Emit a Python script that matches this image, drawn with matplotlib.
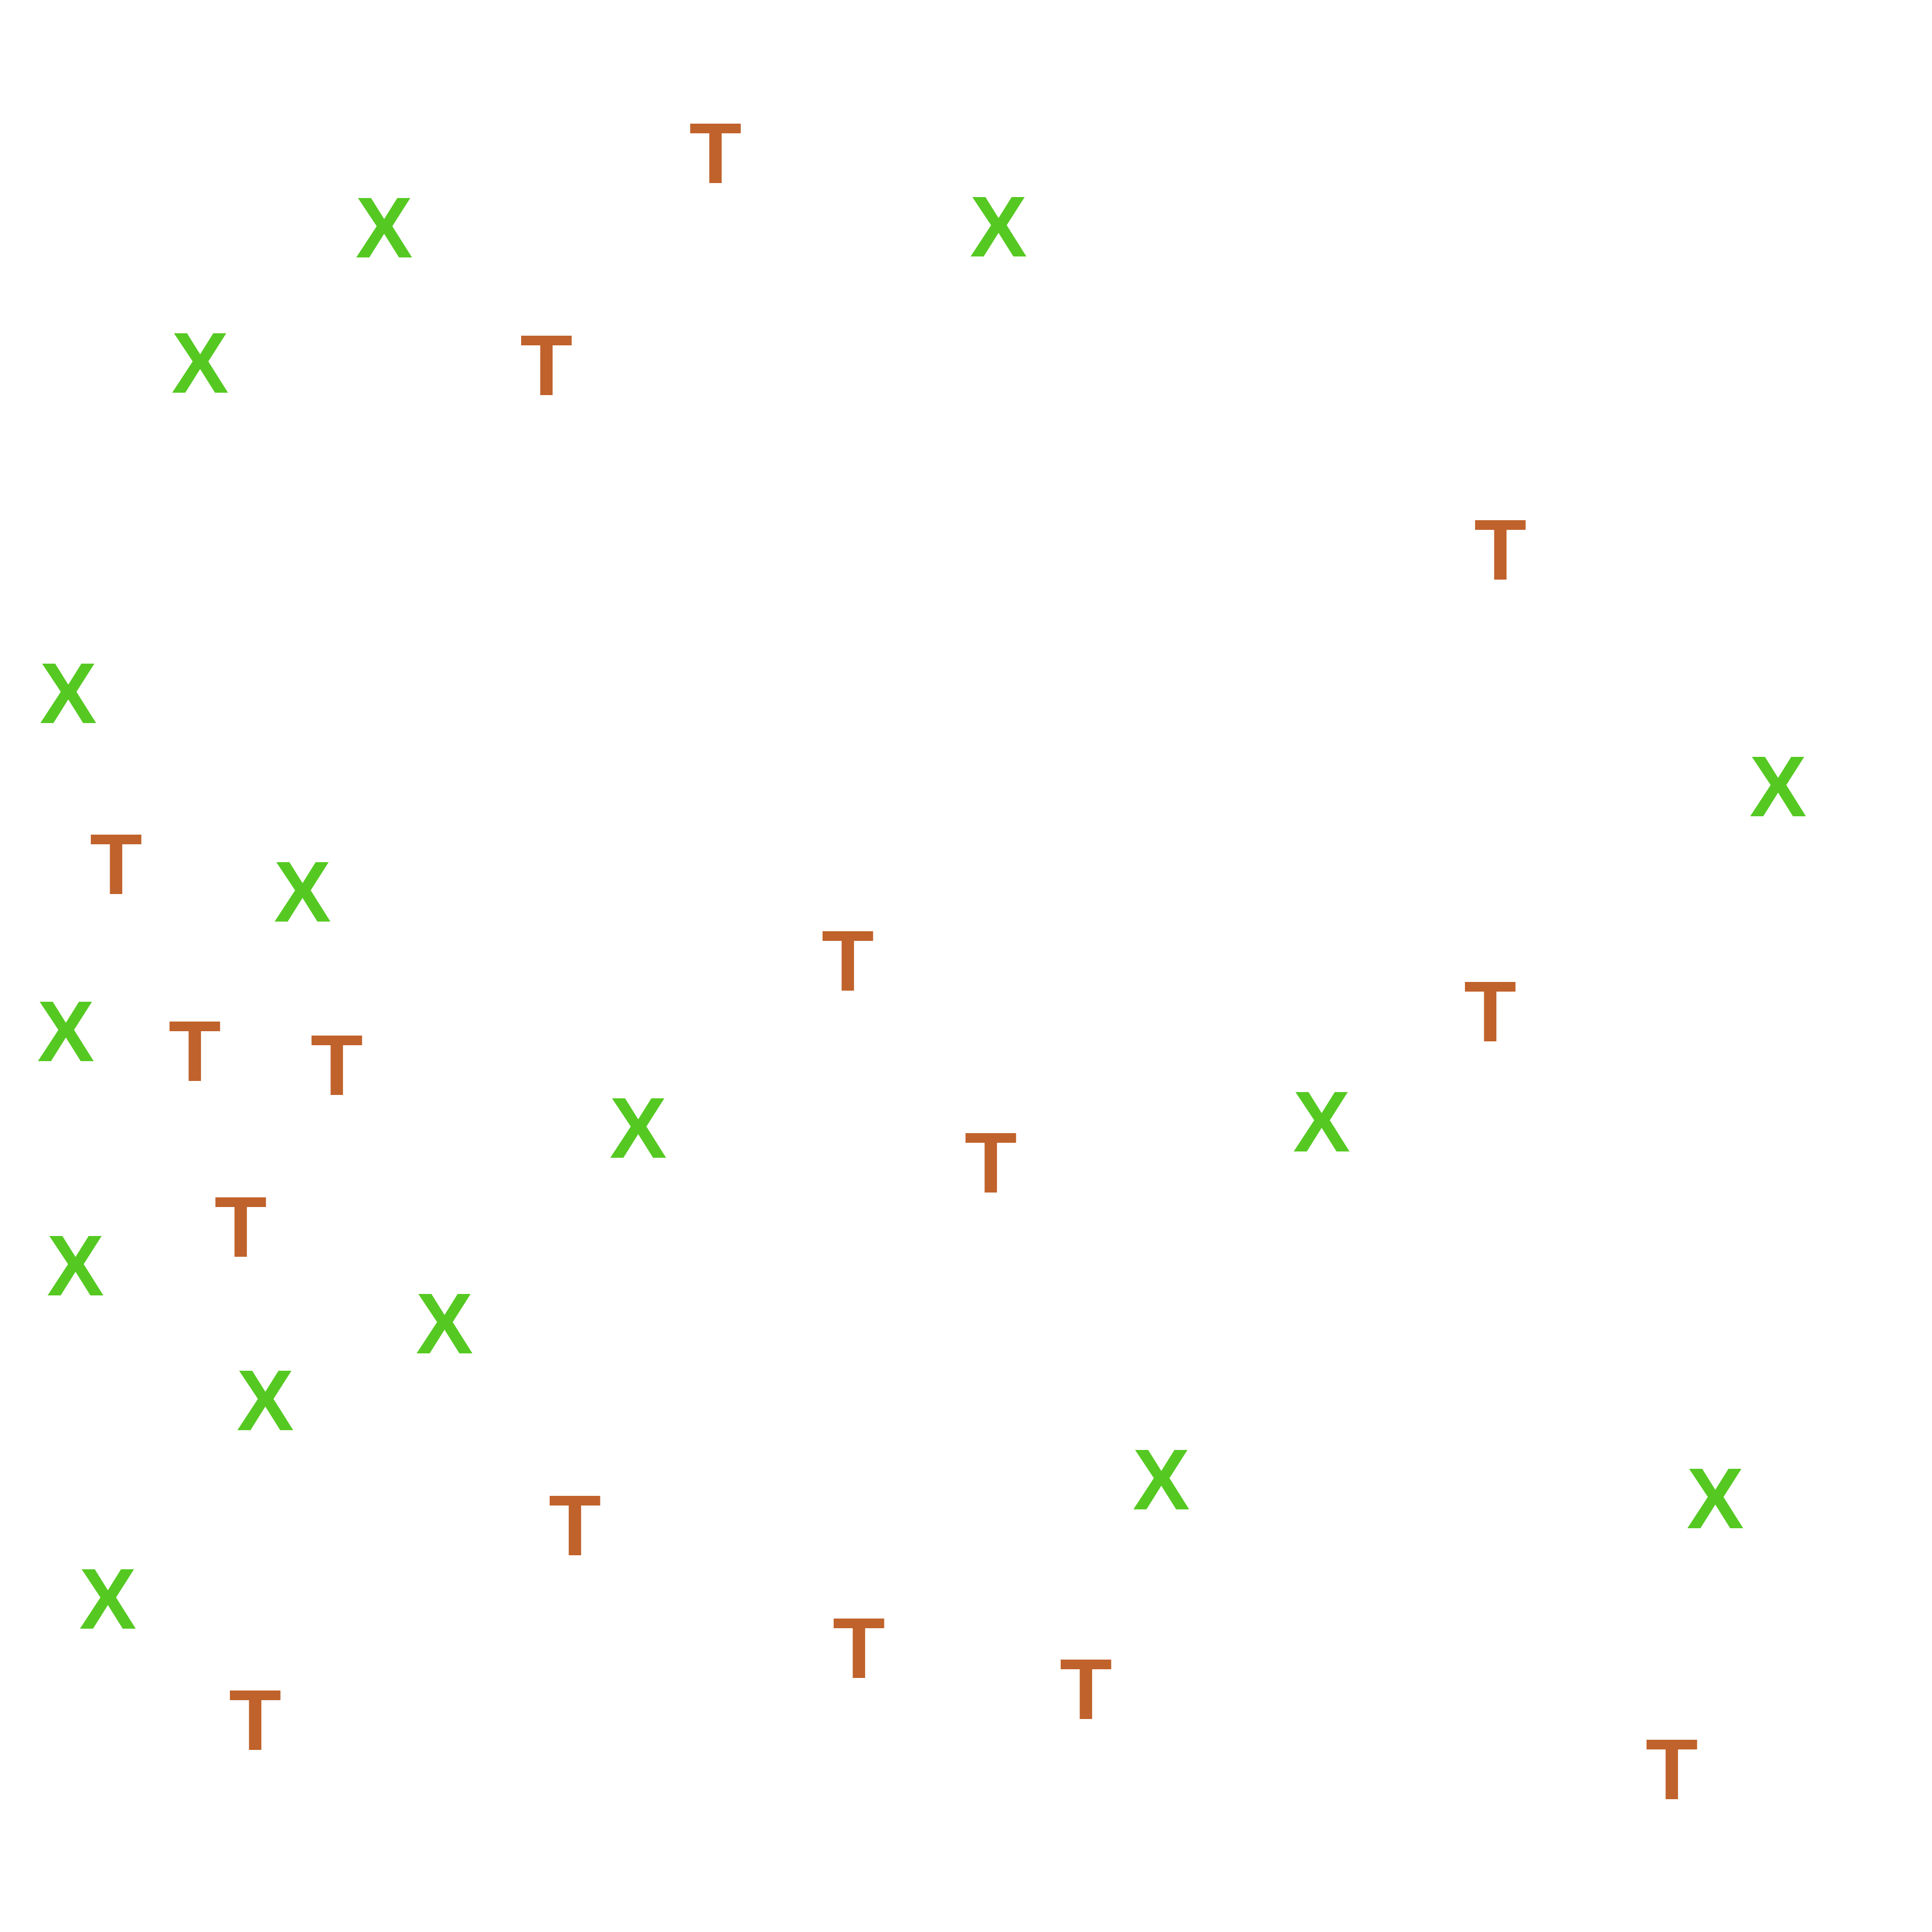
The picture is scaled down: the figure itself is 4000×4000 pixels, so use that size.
import matplotlib
matplotlib.use("Agg")
from matplotlib import pyplot as plt

# letter positions (pixel units of a 1560 wide canvas)
x_pos_x = [311, 809, 162, 55, 1441, 245, 53, 517, 1071, 61, 360, 215, 941, 1390, 87]
x_pos_y = [190, 189, 299, 566, 641, 726, 839, 917, 912, 1028, 1075, 1137, 1201, 1216, 1297]
t_pos_x = [580, 443, 1216, 94, 687, 1208, 158, 273, 803, 195, 466, 696, 880, 207, 1355]
t_pos_y = [130, 301, 450, 704, 782, 823, 855, 866, 945, 997, 1238, 1337, 1370, 1395, 1435]

green = "#55c922"
orange = "#c0622b"

fig = plt.figure(figsize=(40, 40), dpi=100)
ax = fig.add_axes([0, 0, 1, 1])
ax.set_xlim(0, 1566)
ax.set_ylim(1560, 0)
ax.axis("off")

for x, y in zip(x_pos_x, x_pos_y):
    ax.text(x, y, "X", color=green, fontsize=128, fontweight="bold",
            family="Liberation Sans", ha="center", va="center")
for x, y in zip(t_pos_x, t_pos_y):
    ax.text(x, y, "T", color=orange, fontsize=128, fontweight="bold",
            family="Liberation Sans", ha="center", va="center")

fig.savefig("out.png", dpi=100, facecolor="white")
